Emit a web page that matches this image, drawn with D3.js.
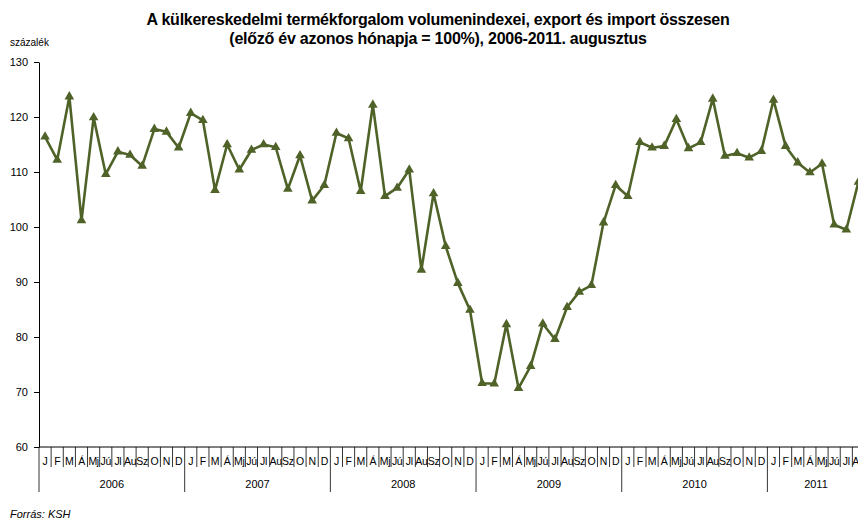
<!DOCTYPE html>
<html lang="hu">
<head>
<meta charset="UTF-8">
<title>Külkereskedelmi volumenindexek</title>
<script src="https://cdn.jsdelivr.net/npm/d3@7"></script>
<style>
    body { margin: 0; background: #fff; overflow: hidden; }
    svg { font-family: "Liberation Sans", Arial, sans-serif; display: block; }
</style>
</head>
<body>
<svg id="chart" width="858" height="523"></svg>
<script>
// months per year, Hungarian abbreviations as on the axis
const monthLabels = ["J", "F", "M", "Á", "Mj", "Jú", "Jl", "Au", "Sz", "O", "N", "D"];
const years = ["2006", "2007", "2008", "2009", "2010", "2011"];
const monthsInYear = [12, 12, 12, 12, 12, 8];
const yTicks = [60, 70, 80, 90, 100, 110, 120, 130];

// volume index, same month of previous year = 100
const values2006 = [116.4, 112.2, 123.7, 101.2, 119.9, 109.6, 113.7, 113.1, 111.1, 117.8, 117.3, 114.4];
const values2007 = [120.7, 119.4, 106.7, 115.0, 110.4, 114.0, 115.0, 114.5, 106.9, 113.0, 104.8, 107.6];
const values2008 = [117.1, 116.1, 106.5, 122.2, 105.6, 107.1, 110.4, 92.2, 106.1, 96.5, 89.8, 84.9];
const values2009 = [71.6, 71.5, 82.3, 70.7, 74.7, 82.4, 79.6, 85.4, 88.2, 89.4, 100.8, 107.6];
const values2010 = [105.6, 115.4, 114.4, 114.7, 119.6, 114.3, 115.4, 123.3, 112.9, 113.4, 112.6, 113.8];
const values2011 = [123.1, 114.7, 111.7, 109.9, 111.5, 100.4, 99.5, 108.2];

const series = [values2006, values2007, values2008, values2009, values2010, values2011];

// flatten into one row per month
const data = [];
series.forEach((vals, yi) => {
    vals.forEach((v, mi) => {
        data.push({ i: data.length, year: years[yi], month: monthLabels[mi], value: v });
    });
});

const svg = d3.select("#chart");
const plotLeft = 39, plotTop = 62, plotBottom = 447;
const bandW = 12.14;
const plotRight = plotLeft + data.length * bandW;

const x = d3.scaleBand()
    .domain(data.map(d => d.i))
    .range([plotLeft, plotRight])
    .paddingInner(0).paddingOuter(0);

const y = d3.scaleLinear()
    .domain([60, 130])
    .range([plotBottom, plotTop]);

const lineColor = "#4f6228";

// title
const title = svg.append("text")
    .attr("text-anchor", "middle")
    .style("font-size", "16px")
    .style("font-weight", "bold")
    .style("letter-spacing", "-0.25px");
title.append("tspan").attr("x", 438).attr("y", 25)
    .text("A külkereskedelmi termékforgalom volumenindexei, export és import összesen");
title.append("tspan").attr("x", 438).attr("y", 44)
    .text("(előző év azonos hónapja = 100%), 2006-2011. augusztus");

svg.append("text")
    .attr("x", 10).attr("y", 46)
    .style("font-size", "10px")
    .text("százalék");

// y axis
const yAxis = d3.axisLeft(y)
    .tickValues(yTicks)
    .tickSize(5)
    .tickPadding(6)
    .tickSizeOuter(0);
const gy = svg.append("g")
    .attr("transform", `translate(${plotLeft},0)`)
    .call(yAxis);
gy.select(".domain").attr("stroke", "#000");
gy.selectAll(".tick line").attr("stroke", "#000");
gy.selectAll(".tick text")
    .style("font-size", "11px")
    .style("font-family", "Liberation Sans, Arial, sans-serif")
    .attr("fill", "#000");

// x axis baseline
svg.append("line")
    .attr("x1", plotLeft).attr("x2", plotRight)
    .attr("y1", plotBottom).attr("y2", plotBottom)
    .attr("stroke", "#000");

// month separators, longer ones between years
const gx = svg.append("g");
gx.selectAll("line.month")
    .data(data)
    .join("line")
    .attr("class", "month")
    .attr("x1", d => x(d.i) + x.bandwidth())
    .attr("x2", d => x(d.i) + x.bandwidth())
    .attr("y1", plotBottom)
    .attr("y2", d => d.month === "D" ? 492 : 467)
    .attr("stroke", "#000")
    .attr("stroke-width", 0.8);

gx.append("line")
    .attr("x1", plotLeft).attr("x2", plotLeft)
    .attr("y1", plotBottom).attr("y2", 492)
    .attr("stroke", "#000").attr("stroke-width", 0.8);

gx.selectAll("text.month")
    .data(data)
    .join("text")
    .attr("class", "month")
    .attr("x", d => x(d.i) + x.bandwidth() / 2)
    .attr("y", 465)
    .attr("text-anchor", "middle")
    .style("font-size", "10.5px")
    .style("letter-spacing", "-0.3px")
    .text(d => d.month);

// year labels centred under their months
let start = 0;
years.forEach((yr, k) => {
    const n = monthsInYear[k];
    const cx = (x(start) + x(start + n - 1) + x.bandwidth()) / 2;
    gx.append("text")
        .attr("x", cx)
        .attr("y", 488)
        .attr("text-anchor", "middle")
        .style("font-size", "11px")
        .text(yr);
    start += n;
});

// line with triangle markers
const line = d3.line()
    .x(d => x(d.i) + x.bandwidth() / 2)
    .y(d => y(d.value));

svg.append("path")
    .datum(data)
    .attr("d", line)
    .attr("fill", "none")
    .attr("stroke", lineColor)
    .attr("stroke-width", 2.6)
    .attr("stroke-linejoin", "round");

const tri = d3.symbol().type(d3.symbolTriangle).size(40);
svg.selectAll("path.marker")
    .data(data)
    .join("path")
    .attr("class", "marker")
    .attr("transform", d => `translate(${x(d.i) + x.bandwidth() / 2},${y(d.value)})`)
    .attr("d", tri)
    .attr("fill", lineColor);

svg.append("text")
    .attr("x", 10).attr("y", 518)
    .style("font-size", "11px")
    .style("font-style", "italic")
    .text("Forrás: KSH");
</script>
</body>
</html>
